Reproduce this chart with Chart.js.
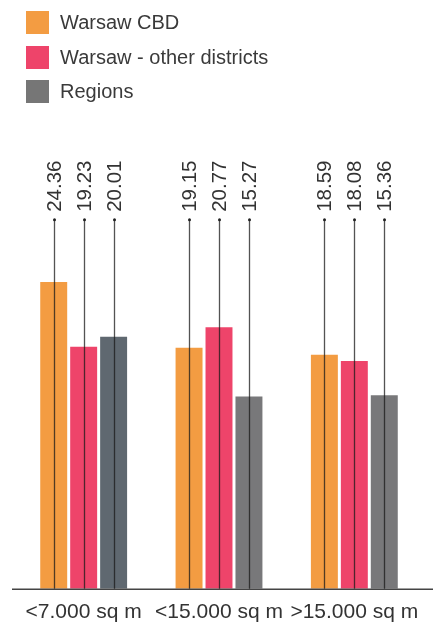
<!DOCTYPE html>
<html>
<head>
<meta charset="utf-8">
<script src="https://cdn.jsdelivr.net/npm/chart.js@4.4.1/dist/chart.umd.min.js"></script>
<style>
    html, body { margin: 0; padding: 0; background: #fff; }
    #wrap { position: relative; width: 443px; height: 625px; }
    #legend { position: absolute; left: 26px; top: 11px; font-family: 'Liberation Sans', Arial, sans-serif; font-size: 20px; color: #3a3a3a; }
    .item { display: flex; align-items: center; height: 23px; margin-bottom: 11.5px; }
    .box { width: 23px; height: 23px; margin-right: 11px; }
</style>
</head>
<body>
<div id="wrap">
    <canvas id="chart" width="443" height="625"></canvas>
    <div id="legend"></div>
</div>
<script>
// Datos del gráfico
const categorias = ['<7.000 sq m', '<15.000 sq m', '>15.000 sq m'];
const series = ['Warsaw CBD', 'Warsaw - other districts', 'Regions'];
const warsawCBD = [24.36, 19.15, 18.59];
const warsawOther = [19.23, 20.77, 18.08];
const regions = [20.01, 15.27, 15.36];

const colores = {
    orange: '#f39c42',
    pink: '#ee446a',
    slate: '#5f6870',
    gray: '#78787a'
};

// Leyenda en HTML (una fila por serie)
const legendColors = [colores.orange, colores.pink, '#767676'];
const legend = document.getElementById('legend');
series.forEach((nombre, i) => {
    const item = document.createElement('div');
    item.className = 'item';
    item.innerHTML = '<span class="box" style="background:' + legendColors[i] + '"></span><span>' + nombre + '</span>';
    legend.appendChild(item);
});

// Líneas guía con etiquetas verticales y eje inferior
const leaderPlugin = {
    id: 'leaders',
    afterDatasetsDraw(chart) {
        const ctx = chart.ctx;
        const area = chart.chartArea;
        const y = chart.scales.y;
        const topY = y.getPixelForValue(29.3);
        ctx.save();
        // eje inferior
        ctx.strokeStyle = '#444';
        ctx.lineWidth = 1.5;
        ctx.beginPath();
        ctx.moveTo(area.left - 4, area.bottom + 0.5);
        ctx.lineTo(area.right + 11, area.bottom + 0.5);
        ctx.stroke();

        chart.data.datasets.forEach((ds, di) => {
            const meta = chart.getDatasetMeta(di);
            meta.data.forEach((bar, i) => {
                const x = Math.round(bar.x) + 0.5;
                ctx.strokeStyle = 'rgba(25,25,25,0.75)';
                ctx.lineWidth = 1.3;
                ctx.beginPath();
                ctx.moveTo(x, topY);
                ctx.lineTo(x, area.bottom);
                ctx.stroke();
                ctx.fillStyle = '#222';
                ctx.beginPath();
                ctx.arc(x, topY, 1.5, 0, Math.PI * 2);
                ctx.fill();

                ctx.save();
                ctx.translate(x, topY - 8);
                ctx.rotate(-Math.PI / 2);
                ctx.fillStyle = '#333';
                ctx.font = '20.5px "Liberation Sans", Arial, sans-serif';
                ctx.textAlign = 'left';
                ctx.textBaseline = 'middle';
                ctx.fillText(ds.data[i].toFixed(2), 0, 1);
                ctx.restore();
            });
        });
        ctx.restore();
    }
};

const ctx = document.getElementById('chart').getContext('2d');
const chart = new Chart(ctx, {
    type: 'bar',
    data: {
        labels: categorias,
        datasets: [
            {
                label: series[0],
                data: warsawCBD,
                backgroundColor: colores.orange
            },
            {
                label: series[1],
                data: warsawOther,
                backgroundColor: colores.pink
            },
            {
                label: series[2],
                data: regions,
                backgroundColor: [colores.slate, colores.gray, colores.gray]
            }
        ]
    },
    options: {
        responsive: false,
        animation: false,
        devicePixelRatio: 1,
        layout: {
            padding: { top: 211, left: 16, right: 21, bottom: -11 }
        },
        datasets: {
            bar: {
                barPercentage: 0.9,
                categoryPercentage: 0.664,
                borderWidth: 0
            }
        },
        scales: {
            x: {
                grid: { display: false, drawTicks: false },
                border: { display: false },
                ticks: {
                    color: '#333',
                    padding: 11,
                    font: { family: '"Liberation Sans", Arial, sans-serif', size: 21 }
                }
            },
            y: {
                display: false,
                min: 0,
                max: 30
            }
        },
        plugins: {
            legend: { display: false },
            tooltip: { enabled: false }
        }
    },
    plugins: [leaderPlugin]
});
</script>
</body>
</html>
